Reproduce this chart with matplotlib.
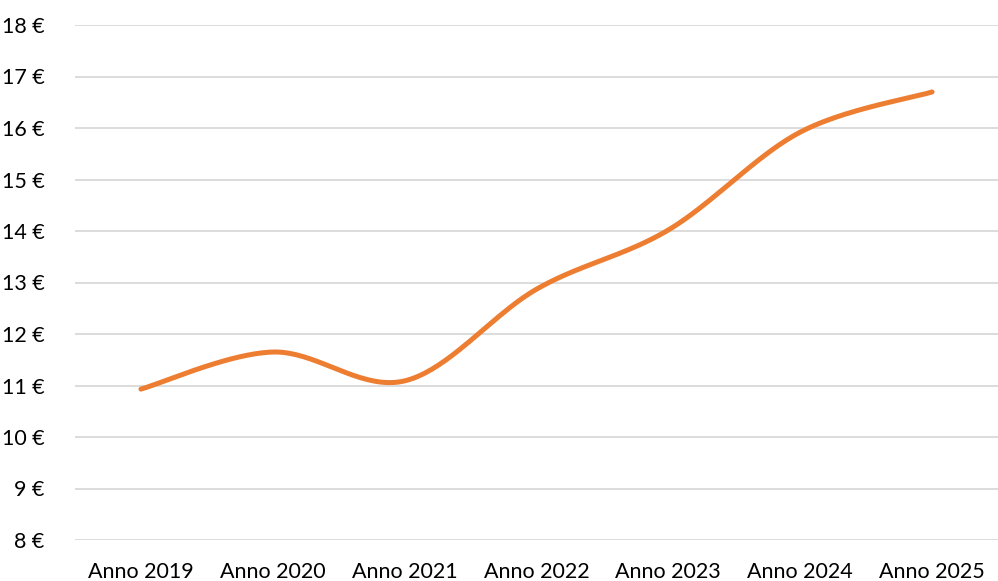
import numpy as np
import matplotlib.pyplot as plt

# Data
categories = ['Anno 2019', 'Anno 2020', 'Anno 2021', 'Anno 2022',
              'Anno 2023', 'Anno 2024', 'Anno 2025']
values = [10.93, 11.65, 11.09, 12.87, 14.02, 15.92, 16.70]
y_ticks = list(range(8, 19))

plt.rcParams['font.family'] = ['Lato', 'DejaVu Sans']


def smooth_curve(xs, ys, n=40):
    # Excel-style smoothed line: cubic Bezier with Catmull-Rom control points
    pts = np.column_stack([xs, ys]).astype(float)
    padded = np.vstack([pts[0], pts, pts[-1]])
    out = []
    for i in range(len(pts) - 1):
        p0, p1, p2, p3 = padded[i], padded[i + 1], padded[i + 2], padded[i + 3]
        c1 = p1 + (p2 - p0) / 6.0
        c2 = p2 - (p3 - p1) / 6.0
        t = np.linspace(0, 1, n)[:, None]
        seg = ((1 - t) ** 3) * p1 + 3 * ((1 - t) ** 2) * t * c1 \
            + 3 * (1 - t) * t ** 2 * c2 + t ** 3 * p2
        out.append(seg if i == 0 else seg[1:])
    seg = np.vstack(out)
    return seg[:, 0], seg[:, 1]


fig = plt.figure(figsize=(9.98, 5.81), dpi=100)
ax = fig.add_axes([75 / 998, 1 - 540 / 581, 1 - 75 / 998, (540 - 25) / 581])

x = np.arange(len(categories))
sx, sy = smooth_curve(x, values)
ax.plot(sx, sy, color='#ED7D31', linewidth=3.6, solid_capstyle='round', zorder=3)

ax.set_xlim(-0.5, len(categories) - 0.5)
ax.set_ylim(8, 18)
ax.set_yticks(y_ticks)
ax.set_yticklabels([f'{v} €' for v in y_ticks])
ax.set_xticks(x)
ax.set_xticklabels(categories)
ax.grid(axis='y', color='#D9D9D9', linewidth=1.3)
ax.set_axisbelow(True)
for s in ax.spines.values():
    s.set_visible(False)
ax.tick_params(axis='both', length=0, labelsize=15.5, colors='#000000')
ax.tick_params(axis='x', pad=15.5)
ax.tick_params(axis='y', pad=22)

fig.savefig('out.png', dpi=100)
